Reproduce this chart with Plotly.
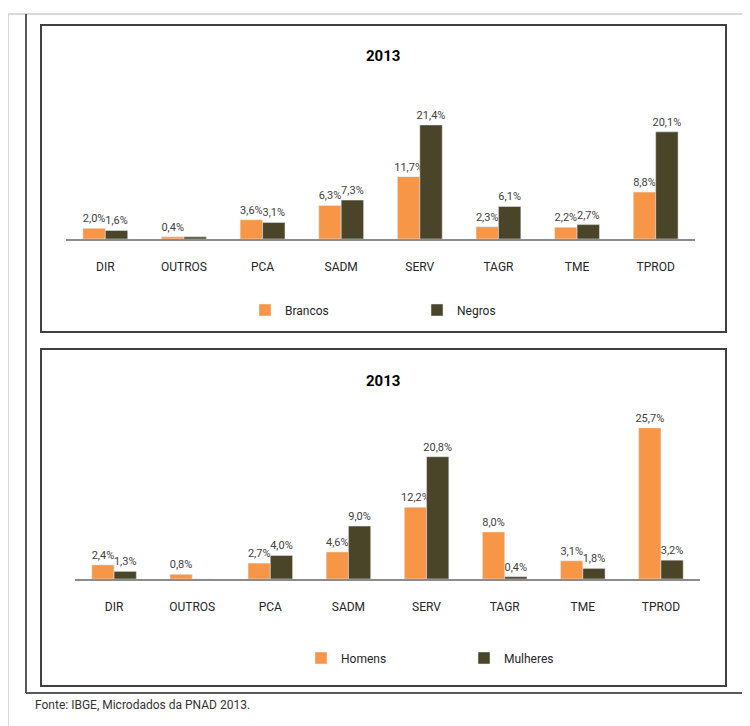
import plotly.graph_objects as go

categories = ["DIR", "OUTROS", "PCA", "SADM", "SERV", "TAGR", "TME", "TPROD"]
brancos = [2.0, 0.4, 3.6, 6.3, 11.7, 2.3, 2.2, 8.8]
negros = [1.6, 0.4, 3.1, 7.3, 21.4, 6.1, 2.7, 20.1]
homens = [2.4, 0.8, 2.7, 4.6, 12.2, 8.0, 3.1, 25.7]
mulheres = [1.3, 0.0, 4.0, 9.0, 20.8, 0.4, 1.8, 3.2]
title_top = "2013"
title_bottom = "2013"
source = "Fonte: IBGE, Microdados da PNAD 2013."

ORANGE = "#F79646"
DARK = "#4A4529"
FONT = "Roboto, Liberation Sans, sans-serif"
# the page body adds an 8px margin; work in screen pixels and shift
OX, OY = 8, 8
W, H = 742, 718


def px(x):
    return (x - OX) / W


def py(y):
    return 1 - (y - OY) / H


def lab(vals, hide=()):
    out = []
    for i, v in enumerate(vals):
        out.append("" if (v == 0 or i in hide) else f"{v:.1f}%".replace(".", ","))
    return out


fig = go.Figure()


def add_bar(name, vals, color, xa, ya, legend, hide=()):
    fig.add_trace(go.Bar(
        x=categories, y=vals, name=name, marker_color=color,
        text=lab(vals, hide), textposition="outside", cliponaxis=False,
        textfont=dict(family=FONT, size=11, color="#404040"),
        constraintext="none",
        xaxis=xa, yaxis=ya, legend=legend,
    ))


add_bar("Brancos", brancos, ORANGE, "x", "y", "legend")
add_bar("Negros", negros, DARK, "x", "y", "legend", hide=(1,))
add_bar("Homens", homens, ORANGE, "x2", "y2", "legend2")
add_bar("Mulheres", mulheres, DARK, "x2", "y2", "legend2")

top_base, top_scale, top_max = 239, 5.33, 25
bot_base, bot_scale, bot_max = 579, 5.88, 28

axis_common = dict(
    showgrid=False, zeroline=False, showline=True, linecolor="#8c8c8c", linewidth=2,
    ticks="", tickfont=dict(family=FONT, size=12, color="#262626"),
    ticklabelstandoff=16, fixedrange=True,
)

legend_common = dict(orientation="h", yanchor="middle", xanchor="left",
                     font=dict(family=FONT, size=12, color="#262626"),
                     entrywidthmode="pixels", bgcolor="rgba(0,0,0,0)",
                     itemwidth=30, itemclick=False, itemdoubleclick=False)

fig.update_layout(
    width=W, height=H, autosize=False,
    margin=dict(l=0, r=0, t=0, b=0),
    paper_bgcolor="white", plot_bgcolor="rgba(0,0,0,0)",
    barmode="group", bargap=0.43, bargroupgap=0.0,
    xaxis=dict(domain=[px(66), px(695)], anchor="y", **axis_common),
    yaxis=dict(domain=[py(top_base), py(top_base - top_scale * top_max)],
               range=[0, top_max], visible=False, anchor="x", fixedrange=True),
    xaxis2=dict(domain=[px(75), px(700)], anchor="y2", **axis_common),
    yaxis2=dict(domain=[py(bot_base), py(bot_base - bot_scale * bot_max)],
                range=[0, bot_max], visible=False, anchor="x2", fixedrange=True),
    legend=dict(x=px(245), y=py(310), entrywidth=127, **legend_common),
    legend2=dict(x=px(301), y=py(658), entrywidth=118, **legend_common),
    showlegend=True,
)

for t, yy in ((title_top, 56), (title_bottom, 381)):
    fig.add_annotation(text=f"<b>{t}</b>", x=px(383), y=py(yy), xref="paper", yref="paper",
                       showarrow=False, font=dict(family=FONT, size=15, color="#000000"),
                       xanchor="center", yanchor="middle")
fig.add_annotation(text=source, x=px(33), y=py(705), xref="paper", yref="paper",
                   showarrow=False, font=dict(family=FONT, size=12, color="#333333"),
                   xanchor="left", yanchor="middle")

shapes = []
light = dict(color="#d9d9d9", width=2)
darkl = dict(color="#595959", width=2)
inner = dict(color="#404040", width=2)
shapes.append(dict(type="line", x0=px(8), x1=px(750), y0=py(14), y1=py(14), line=light))
shapes.append(dict(type="line", x0=px(8), x1=px(8), y0=py(14), y1=py(726), line=light))
shapes.append(dict(type="line", x0=px(26), x1=px(26), y0=py(14), y1=py(693), line=darkl))
shapes.append(dict(type="line", x0=px(26), x1=px(747), y0=py(693), y1=py(693), line=darkl))
shapes.append(dict(type="line", x0=px(747), x1=px(747), y0=py(14), y1=py(693), line=darkl))
shapes.append(dict(type="rect", x0=px(41), x1=px(726), y0=py(25), y1=py(332), line=inner))
shapes.append(dict(type="rect", x0=px(41), x1=px(726), y0=py(349), y1=py(686), line=inner))
for s in shapes:
    s["xref"] = "paper"
    s["yref"] = "paper"
fig.update_layout(shapes=shapes)

fig.write_html("out.html")
